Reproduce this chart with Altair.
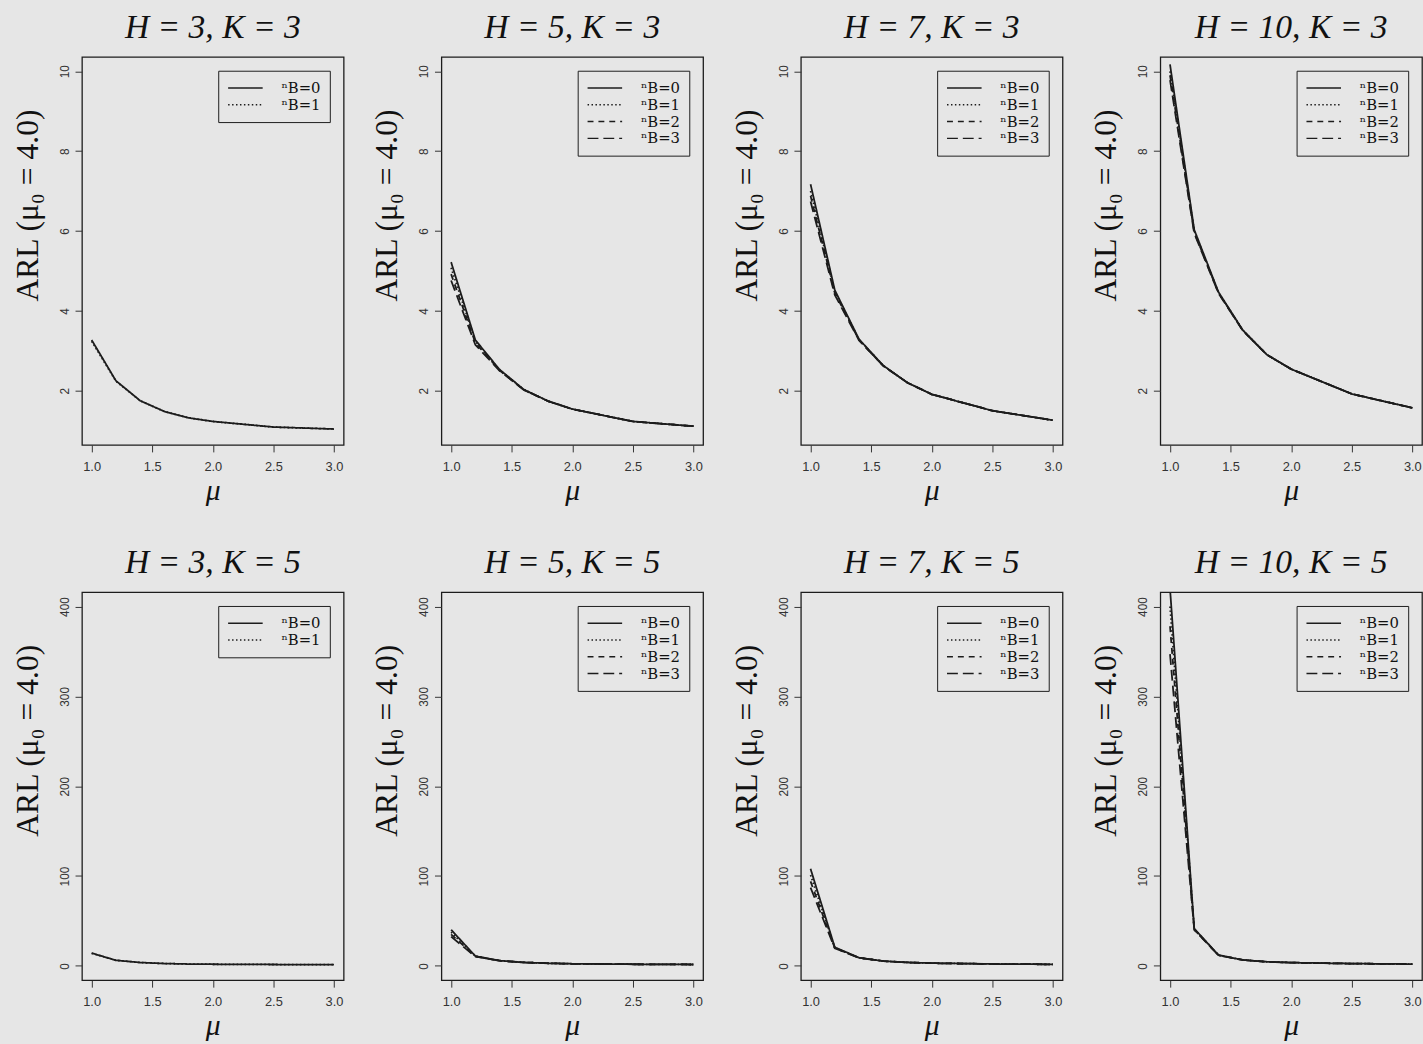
import altair as alt
import pandas as pd

mu = [1.0, 1.2, 1.4, 1.6, 1.8, 2.0, 2.5, 3.0]

# K = 3 (top row)
h3k3_nb0 = [3.27, 2.25, 1.75, 1.48, 1.32, 1.23, 1.09, 1.04]
h3k3_nb1 = [3.24, 2.24, 1.75, 1.48, 1.32, 1.23, 1.09, 1.04]

h5k3_nb0 = [5.22, 3.27, 2.53, 2.03, 1.74, 1.54, 1.23, 1.11]
h5k3_nb1 = [5.08, 3.24, 2.52, 2.03, 1.74, 1.54, 1.23, 1.11]
h5k3_nb2 = [4.92, 3.20, 2.51, 2.02, 1.74, 1.54, 1.23, 1.11]
h5k3_nb3 = [4.76, 3.15, 2.50, 2.02, 1.74, 1.54, 1.23, 1.11]

h7k3_nb0 = [7.17, 4.52, 3.29, 2.63, 2.20, 1.91, 1.50, 1.26]
h7k3_nb1 = [7.00, 4.48, 3.28, 2.63, 2.20, 1.91, 1.50, 1.26]
h7k3_nb2 = [6.88, 4.45, 3.27, 2.62, 2.20, 1.91, 1.50, 1.26]
h7k3_nb3 = [6.74, 4.40, 3.26, 2.62, 2.20, 1.91, 1.50, 1.26]

h10k3_nb0 = [10.17, 6.03, 4.47, 3.52, 2.90, 2.54, 1.92, 1.57]
h10k3_nb1 = [10.00, 6.00, 4.46, 3.52, 2.90, 2.54, 1.92, 1.57]
h10k3_nb2 = [9.90, 5.97, 4.45, 3.51, 2.90, 2.54, 1.92, 1.57]
h10k3_nb3 = [9.78, 5.94, 4.44, 3.51, 2.90, 2.54, 1.92, 1.57]

# K = 5 (bottom row)
h3k5_nb0 = [14.2, 6.2, 3.7, 2.6, 2.0, 1.8, 1.5, 1.4]
h3k5_nb1 = [14.0, 6.2, 3.7, 2.6, 2.0, 1.8, 1.5, 1.4]

h5k5_nb0 = [40.2, 10.9, 5.8, 3.8, 2.9, 2.3, 1.8, 1.5]
h5k5_nb1 = [37.5, 10.7, 5.8, 3.8, 2.9, 2.3, 1.8, 1.5]
h5k5_nb2 = [35.0, 10.5, 5.7, 3.8, 2.9, 2.3, 1.8, 1.5]
h5k5_nb3 = [32.6, 10.2, 5.7, 3.8, 2.9, 2.3, 1.8, 1.5]

h7k5_nb0 = [108.0, 20.7, 9.1, 5.3, 3.8, 3.0, 2.1, 1.7]
h7k5_nb1 = [101.0, 20.3, 9.0, 5.3, 3.8, 3.0, 2.1, 1.7]
h7k5_nb2 = [94.0, 19.9, 9.0, 5.3, 3.8, 3.0, 2.1, 1.7]
h7k5_nb3 = [87.0, 19.5, 8.9, 5.3, 3.8, 3.0, 2.1, 1.7]

h10k5_nb0 = [420.0, 41.5, 12.0, 6.6, 4.5, 3.6, 2.5, 2.0]
h10k5_nb1 = [400.0, 41.0, 11.9, 6.6, 4.5, 3.6, 2.5, 2.0]
h10k5_nb2 = [378.0, 40.5, 11.9, 6.6, 4.5, 3.6, 2.5, 2.0]
h10k5_nb3 = [347.0, 40.0, 11.8, 6.6, 4.5, 3.6, 2.5, 2.0]

nb_labels = ["ⁿB=0", "ⁿB=1", "ⁿB=2", "ⁿB=3"]
x_ticks = [1.0, 1.5, 2.0, 2.5, 3.0]
y_ticks_top = [2, 4, 6, 8, 10]
y_ticks_bottom = [0, 100, 200, 300, 400]

panels_top = [
    ("H = 3, K = 3", [h3k3_nb0, h3k3_nb1]),
    ("H = 5, K = 3", [h5k3_nb0, h5k3_nb1, h5k3_nb2, h5k3_nb3]),
    ("H = 7, K = 3", [h7k3_nb0, h7k3_nb1, h7k3_nb2, h7k3_nb3]),
    ("H = 10, K = 3", [h10k3_nb0, h10k3_nb1, h10k3_nb2, h10k3_nb3]),
]
panels_bottom = [
    ("H = 3, K = 5", [h3k5_nb0, h3k5_nb1]),
    ("H = 5, K = 5", [h5k5_nb0, h5k5_nb1, h5k5_nb2, h5k5_nb3]),
    ("H = 7, K = 5", [h7k5_nb0, h7k5_nb1, h7k5_nb2, h7k5_nb3]),
    ("H = 10, K = 5", [h10k5_nb0, h10k5_nb1, h10k5_nb2, h10k5_nb3]),
]

dashes = [[1, 0], [1.5, 2.5], [6, 5], [11, 5]]
INK = "#1c1c1c"
BG = "#e6e6e6"


def panel(title, series, ydom, yticks):
    rows = []
    for i, vals in enumerate(series):
        for m, v in zip(mu, vals):
            rows.append({"mu": m, "ARL": v, "nB": nb_labels[i], "order": len(series) - i})
    df = pd.DataFrame(rows)
    labs = nb_labels[: len(series)]
    return (
        alt.Chart(df)
        .mark_line(clip=True, color=INK, strokeWidth=1.8)
        .encode(
            x=alt.X(
                "mu:Q",
                scale=alt.Scale(domain=[0.92, 3.08], nice=False, zero=False),
                axis=alt.Axis(values=x_ticks, format=".1f", title="μ"),
            ),
            y=alt.Y(
                "ARL:Q",
                scale=alt.Scale(domain=ydom, nice=False, zero=False),
                axis=alt.Axis(values=yticks, title="ARL (μ₀ = 4.0)"),
            ),
            strokeDash=alt.StrokeDash(
                "nB:N",
                scale=alt.Scale(domain=labs, range=dashes[: len(series)]),
                legend=alt.Legend(title=None),
            ),
            order=alt.Order("order:Q"),
        )
        .properties(width=265, height=393, title=title)
    )


top = alt.hconcat(
    *[panel(t, s, [0.64, 10.36], y_ticks_top) for t, s in panels_top], spacing=26
).resolve_scale(strokeDash="independent").resolve_legend(strokeDash="independent")
bottom = alt.hconcat(
    *[panel(t, s, [-16, 416], y_ticks_bottom) for t, s in panels_bottom], spacing=26
).resolve_scale(strokeDash="independent").resolve_legend(strokeDash="independent")

chart = (
    alt.vconcat(top, bottom, spacing=40)
    .resolve_scale(strokeDash="independent")
    .resolve_legend(strokeDash="independent")
    .properties(padding={"left": 11, "top": 4, "right": 0, "bottom": 0})
    .configure(background=BG)
    .configure_view(stroke=INK, strokeWidth=1.3, fill=BG)
    .configure_title(
        font="Liberation Serif",
        fontStyle="italic",
        fontWeight="normal",
        fontSize=34,
        color="#111111",
        anchor="middle",
        frame="group",
        offset=12,
    )
    .configure_axis(
        domain=False,
        grid=False,
        ticks=True,
        tickSize=7,
        tickColor="#333333",
        tickWidth=1,
        labelFont="Liberation Sans",
        labelFontSize=12,
        labelColor="#333333",
        titleFont="Liberation Serif",
        titleFontWeight="normal",
        titleColor="#111111",
    )
    .configure_axisX(labelPadding=9, labelFontSize=13, titleFontSize=30, titleFontStyle="italic", titlePadding=2)
    .configure_axisY(
        labelAngle=270,
        labelAlign="center",
        labelBaseline="bottom",
        labelPadding=4,
        titleFontSize=32,
        titlePadding=14,
        titleY=150,
    )
    .configure_legend(
        orient="top-right",
        offset=14,
        strokeColor=INK,
        fillColor=BG,
        padding=9,
        symbolType="stroke",
        symbolSize=1225,
        symbolStrokeWidth=1.5,
        symbolStrokeColor=INK,
        labelFont="DejaVu Serif",
        labelFontSize=15,
        labelColor="#111111",
        clipHeight=17,
        rowPadding=0,
        labelOffset=18,
    )
)

chart.save("out.html", embed_options={"renderer": "svg", "actions": False})
